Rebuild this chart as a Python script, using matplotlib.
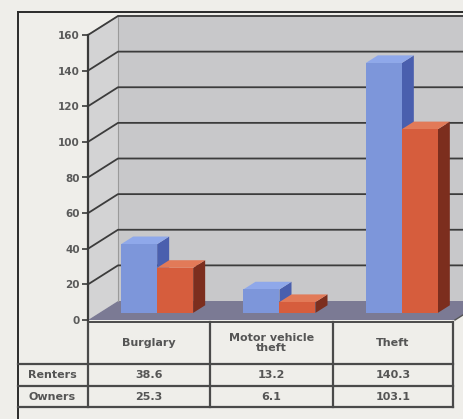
import matplotlib
matplotlib.use("Agg")
import matplotlib.pyplot as plt
from matplotlib.patches import Polygon
import numpy as np

categories = ["Burglary", "Motor vehicle\ntheft", "Theft"]
series_names = ["Renters", "Owners"]
renters = [38.6, 13.2, 140.3]
owners = [25.3, 6.1, 103.1]
renters_labels = ["38.6", "13.2", "140.3"]
owners_labels = ["25.3", "6.1", "103.1"]
yticks = [0, 20, 40, 60, 80, 100, 120, 140, 160]

W, H = 464, 419
fig = plt.figure(figsize=(W / 100, H / 100), dpi=100)
bg = "#efeeea"
fig.patch.set_facecolor(bg)

# helper axes in pixel coords for frame/table
pax = fig.add_axes([0, 0, 1, 1], zorder=0)
pax.set_xlim(0, W)
pax.set_ylim(H, 0)
pax.axis("off")

# main chart axes
x_left_px, x_right_px = 88, 455
y0_px, y160_px = 320, 35
ax = fig.add_axes([x_left_px / W, (H - y0_px) / H,
                   (x_right_px - x_left_px) / W, (y0_px - y160_px) / H], zorder=1)
ax.set_xlim(-0.5, 2.5)
ax.set_ylim(0, 160)
ax.patch.set_alpha(0)
for s in ["top", "right", "bottom"]:
    ax.spines[s].set_visible(False)
ax.spines["left"].set_color("#3a3a3a")
ax.spines["left"].set_linewidth(1.6)
ax.spines["left"].set_zorder(10)
ax.set_xticks([])
ax.set_yticks(yticks)
ax.tick_params(axis="y", length=4, width=1.2, color="#3a3a3a", pad=2,
               labelsize=7.5, labelcolor="#5a5a5a")
for lab in ax.get_yticklabels():
    lab.set_fontweight("bold")

pxx = (x_right_px - x_left_px) / 3.0
pxy = (y0_px - y160_px) / 160.0
DX = 30 / pxx
DY = 19 / pxy
XR = 3.2

wall_c = "#c8c8ca"
side_c = "#d3d3d4"
floor_c = "#7b7a94"
grid_c = "#3c3c3c"

# back wall
ax.add_patch(Polygon([(-0.5 + DX, DY), (XR, DY), (XR, 160 + DY), (-0.5 + DX, 160 + DY)],
                     closed=True, fc=wall_c, ec="none", clip_on=False, zorder=1))
# side wall
ax.add_patch(Polygon([(-0.5, 0), (-0.5 + DX, DY), (-0.5 + DX, 160 + DY), (-0.5, 160)],
                     closed=True, fc=side_c, ec="none", clip_on=False, zorder=1))
ax.plot([-0.5 + DX, -0.5 + DX], [DY, 160 + DY], color="#9a9a9a", lw=0.8, clip_on=False, zorder=2)
ax.plot([-0.5, -0.5 + DX, XR], [160, 160 + DY, 160 + DY], color="#9a9a9a", lw=0.8, clip_on=False, zorder=2)
# floor
ax.add_patch(Polygon([(-0.5, 0), (-0.5 + DX, DY), (XR, DY), (XR, 0)],
                     closed=True, fc=floor_c, ec="none", clip_on=False, zorder=1))
ax.add_patch(Polygon([(2.5, 0), (2.5 + DX, DY), (XR, DY), (XR, 0)],
                     closed=True, fc=bg, ec="none", clip_on=False, zorder=1.5))
ax.plot([2.5, 2.5 + DX * 0.4], [0, DY * 0.4], color="#555555", lw=1, clip_on=False, zorder=2)

# gridlines
for v in yticks[1:]:
    ax.plot([-0.5, -0.5 + DX, XR], [v, v + DY, v + DY], color=grid_c, lw=1.3,
            clip_on=False, zorder=2)

# bars
bw = 36 / pxx
BS_X = 8 / pxx
BS_Y = 4.0
BDX = 0.4 * DX
BDY = 0.4 * DY
x = np.arange(len(categories))
colors = {
    "Renters": ("#7d96da", "#8fa8ea", "#4a5fae"),
    "Owners": ("#d65d3d", "#e27a58", "#7c2e1e"),
}
for i in x:
    for j, (name, vals) in enumerate([("Renters", renters), ("Owners", owners)]):
        front, topc, sidec = colors[name]
        x0 = i + BS_X - bw + j * bw
        x1 = x0 + bw
        b = BS_Y
        t = vals[i] + BS_Y
        z = 3 + i * 0.1 + j * 0.03
        ax.add_patch(Polygon([(x1, b), (x1 + BDX, b + BDY), (x1 + BDX, t + BDY), (x1, t)],
                             closed=True, fc=sidec, ec="none", clip_on=False, zorder=z))
        ax.add_patch(Polygon([(x0, t), (x0 + BDX, t + BDY), (x1 + BDX, t + BDY), (x1, t)],
                             closed=True, fc=topc, ec="none", clip_on=False, zorder=z + 0.01))
        ax.bar(x0, vals[i], width=bw, bottom=b, align="edge", color=front,
               edgecolor="none", zorder=z + 0.02, clip_on=False)

# frame
lc = "#2a2a2a"
pax.plot([18, W], [12, 12], color=lc, lw=1.4)
pax.plot([18, 18], [12, H], color=lc, lw=1.4)

# table
col_edges = [88, 210, 333, 453]
row_edges = [322, 364, 386, 407]
tc = "#4a4a4a"
pax.plot([88, 453], [322, 322], color=tc, lw=1.4)
for yy in row_edges[1:]:
    pax.plot([18, 453], [yy, yy], color=tc, lw=1.6)
for xx in col_edges:
    pax.plot([xx, xx], [322, 407], color=tc, lw=1.6)
tfont = dict(fontsize=8, fontweight="bold", color="#555555", ha="center", va="center")
for k, cat in enumerate(categories):
    cx = (col_edges[k] + col_edges[k + 1]) / 2
    pax.text(cx, (row_edges[0] + row_edges[1]) / 2, cat, linespacing=1.0, **tfont)
    pax.text(cx, (row_edges[1] + row_edges[2]) / 2, renters_labels[k], **tfont)
    pax.text(cx, (row_edges[2] + row_edges[3]) / 2, owners_labels[k], **tfont)
for r, name in enumerate(series_names):
    pax.text(52, (row_edges[r + 1] + row_edges[r + 2]) / 2, name, **tfont)

fig.savefig("out.png", dpi=100, facecolor=bg)
